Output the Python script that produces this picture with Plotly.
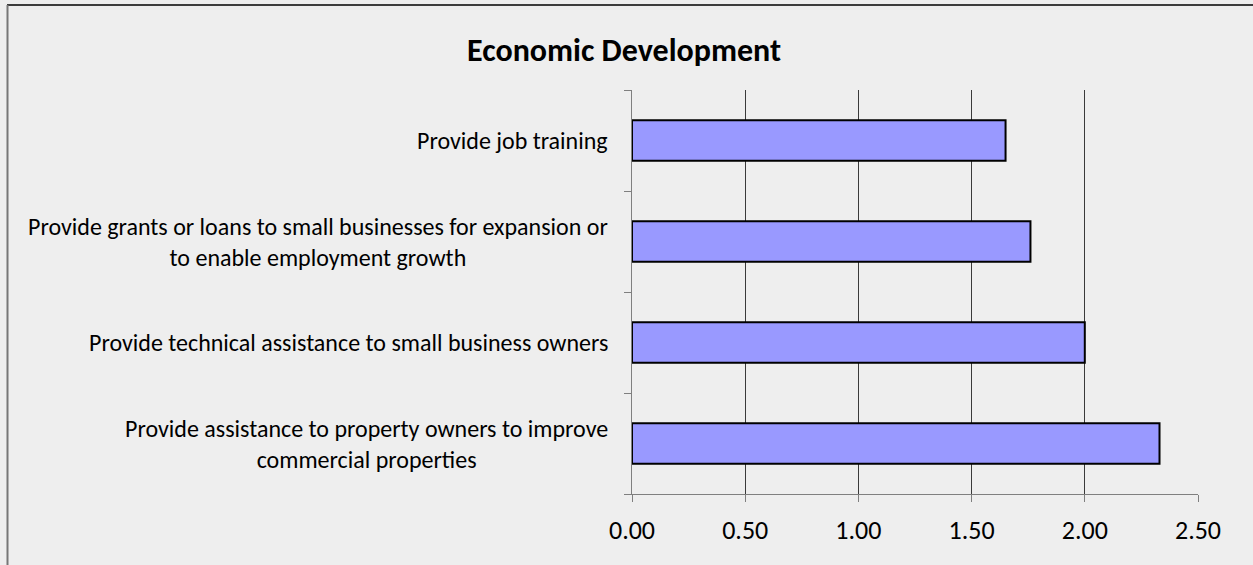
import plotly.graph_objects as go

# Survey priorities – average rating per activity
categories = [
    "Provide job training",
    "Provide grants or loans to small businesses for expansion or<br>to enable employment growth",
    "Provide technical assistance to small business owners",
    "Provide assistance to property owners to improve<br>commercial properties",
]
scores = [1.65, 1.76, 2.00, 2.33]
x_ticks = [0.0, 0.5, 1.0, 1.5, 2.0, 2.5]

FONT = "Carlito, Lato, sans-serif"
BG = "#eeeeee"

# category keys without the line breaks used for display
keys = [c.replace("<br>", " ") for c in categories]

fig = go.Figure(
    go.Bar(
        x=scores,
        y=keys,
        orientation="h",
        width=0.4,
        marker=dict(color="#9999ff", line=dict(color="#000000", width=2)),
        hoverinfo="x+y",
    )
)

# category labels drawn as centred multi-line text left of the axis
for key, label in zip(keys, categories):
    fig.add_annotation(
        x=0, xref="paper", y=key, yref="y",
        text=label, showarrow=False,
        xanchor="right", yanchor="middle", align="center",
        xshift=-22,
        font=dict(family=FONT, size=24, color="#000000"),
    )

fig.update_layout(
    width=1253,
    height=565,
    margin=dict(l=632, r=55, t=90, b=71),
    paper_bgcolor=BG,
    plot_bgcolor=BG,
    showlegend=False,
    bargap=0.6,
    title=dict(
        text="<b>Economic Development</b>",
        x=624 / 1253, xref="container", xanchor="center",
        y=1 - 50 / 565, yref="container", yanchor="middle",
        font=dict(family=FONT, size=32, color="#000000"),
    ),
    xaxis=dict(
        range=[0, 2.5],
        tickvals=x_ticks,
        tickformat=".2f",
        showgrid=True,
        gridcolor="#3a3a3a",
        gridwidth=1,
        zeroline=False,
        showline=True,
        linecolor="#7f7f7f",
        linewidth=1,
        ticks="outside",
        ticklen=7,
        tickcolor="#7f7f7f",
        ticklabelstandoff=6,
        tickfont=dict(family=FONT, size=26, color="#000000"),
        fixedrange=True,
    ),
    yaxis=dict(
        type="category",
        categoryorder="array",
        categoryarray=keys[::-1],
        showticklabels=False,
        showgrid=False,
        showline=True,
        linecolor="#7f7f7f",
        linewidth=1,
        ticks="outside",
        tickson="boundaries",
        ticklen=7,
        tickcolor="#7f7f7f",
        fixedrange=True,
    ),
    shapes=[
        # chart frame: top and left edges
        dict(type="line", xref="paper", yref="paper",
             x0=(7 - 632) / 566, x1=(1253 - 632) / 566,
             y0=(494 - 5) / 404, y1=(494 - 5) / 404,
             line=dict(color="#000000", width=1.5)),
        dict(type="line", xref="paper", yref="paper",
             x0=(7.5 - 632) / 566, x1=(7.5 - 632) / 566,
             y0=(494 - 5) / 404, y1=(494 - 565) / 404,
             line=dict(color="#777777", width=2)),
    ],
)

fig.write_html("out.html")
